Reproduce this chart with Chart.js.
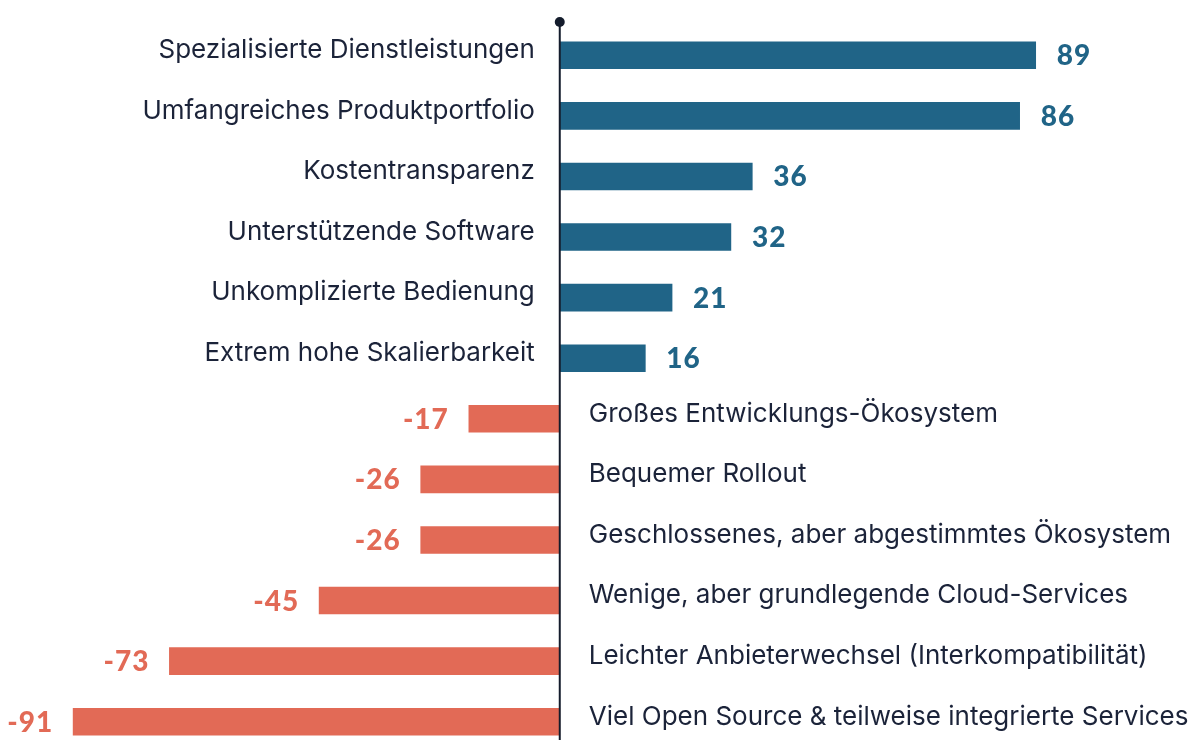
<!DOCTYPE html>
<html>
<head>
<meta charset="utf-8">
<script src="https://cdn.jsdelivr.net/npm/chart.js@4"></script>
<style>
  html, body { margin: 0; padding: 0; background: #fff; overflow: hidden; }
  #wrap { position: relative; width: 1200px; height: 760px; }
</style>
</head>
<body>
<div id="wrap"><canvas id="myChart"></canvas></div>
<script>
const categories = [
  "Spezialisierte Dienstleistungen",
  "Umfangreiches Produktportfolio",
  "Kostentransparenz",
  "Unterstützende Software",
  "Unkomplizierte Bedienung",
  "Extrem hohe Skalierbarkeit",
  "Großes Entwicklungs-Ökosystem",
  "Bequemer Rollout",
  "Geschlossenes, aber abgestimmtes Ökosystem",
  "Wenige, aber grundlegende Cloud-Services",
  "Leichter Anbieterwechsel (Interkompatibilität)",
  "Viel Open Source & teilweise integrierte Services"
];
const values = [89, 86, 36, 32, 21, 16, -17, -26, -26, -45, -73, -91];

const BLUE = "#206487";
const RED = "#e26a56";
const TEXT = "#1b2339";

// labels + zero line with dot on top
const labelPlugin = {
  id: "labels",
  afterDatasetsDraw(chart) {
    const ctx = chart.ctx;
    const x0 = chart.scales.x.getPixelForValue(0);
    ctx.save();
    ctx.strokeStyle = "#141c2c";
    ctx.lineWidth = 2;
    ctx.beginPath();
    ctx.moveTo(x0, 22);
    ctx.lineTo(x0, chart.height);
    ctx.stroke();
    ctx.fillStyle = "#141c2c";
    ctx.beginPath();
    ctx.arc(x0, 22, 5, 0, Math.PI * 2);
    ctx.fill();

    chart.getDatasetMeta(0).data.forEach((bar, i) => {
      const v = values[i];
      ctx.textBaseline = "middle";
      ctx.font = "900 28px Lato, 'Open Sans', sans-serif";
      ctx.letterSpacing = "1px";
      ctx.fillStyle = v >= 0 ? BLUE : RED;
      if (v >= 0) {
        ctx.textAlign = "left";
        ctx.fillText(String(v), bar.x + 21, bar.y + 1);
      } else {
        ctx.textAlign = "right";
        ctx.fillText(String(v), bar.x - 20, bar.y + 1);
      }
      ctx.letterSpacing = "0px";
      ctx.font = "26px Inter, 'Noto Sans', sans-serif";
      ctx.fillStyle = TEXT;
      if (v >= 0) {
        ctx.textAlign = "right";
        ctx.fillText(categories[i], x0 - 25, bar.y - 5);
      } else {
        ctx.textAlign = "left";
        ctx.fillText(categories[i], x0 + 29, bar.y - 5);
      }
    });
    ctx.restore();
  }
};

new Chart(document.getElementById("myChart").getContext("2d"), {
  type: "bar",
  data: {
    labels: categories,
    datasets: [{
      data: values,
      backgroundColor: values.map(v => v >= 0 ? BLUE : RED),
      barThickness: 27,
      borderWidth: 0
    }]
  },
  options: {
    indexAxis: "y",
    responsive: true,
    maintainAspectRatio: false,
    animation: false,
    layout: { padding: { top: 25, bottom: 8, left: 25, right: 52 } },
    plugins: { legend: { display: false }, tooltip: { enabled: false } },
    scales: {
      x: { min: -100, max: 110, display: false },
      y: { display: false }
    }
  },
  plugins: [labelPlugin]
});
</script>
</body>
</html>
